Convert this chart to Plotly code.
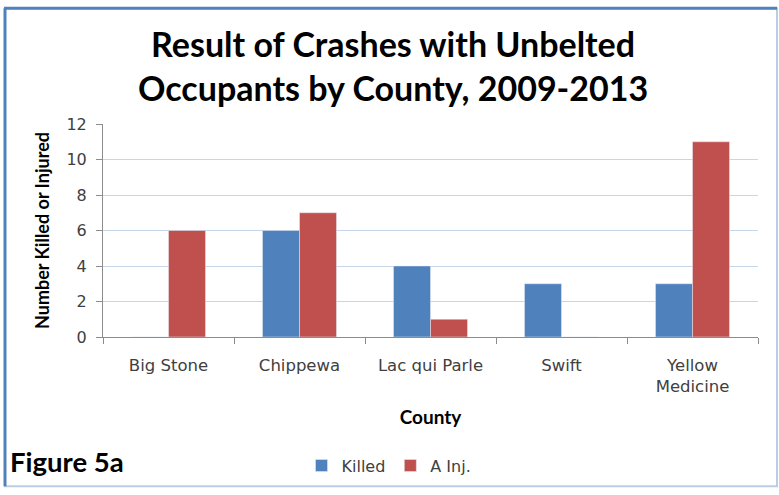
import plotly.graph_objects as go

# -------------------------------------------------
# Data
# -------------------------------------------------
counties = ["Big Stone", "Chippewa", "Lac qui Parle", "Swift", "Yellow<br>Medicine"]
killed = [0, 6, 4, 3, 3]
a_injured = [6, 7, 1, 0, 11]

BLUE = "#4F81BD"
RED = "#C0504D"
BOLD_FONT = "Lato"
TICK_FONT = "DejaVu Sans"

# plot area in pixels (779 x 495 page)
L, R, T, B = 103, 21, 124, 154
W, H = 779, 495
PW, PH = W - L - R, H - T - B


def px_x(x):
    return (x - L) / PW


def px_y(y):
    return (H - B - y) / PH


fig = go.Figure()
fig.add_trace(go.Bar(x=counties, y=killed, name="Killed", marker_color=BLUE))
fig.add_trace(go.Bar(x=counties, y=a_injured, name="A Inj.", marker_color=RED))

fig.update_layout(
    width=W,
    height=H,
    margin=dict(l=L, r=R, t=T, b=B),
    paper_bgcolor="white",
    plot_bgcolor="white",
    barmode="group",
    bargap=0.435,
    bargroupgap=0,
    font=dict(family=TICK_FONT, color="#404040", size=16),
    legend=dict(
        orientation="h",
        x=px_x(389),
        xanchor="center",
        y=px_y(472),
        yanchor="middle",
        font=dict(family=TICK_FONT, size=16, color="#404040"),
        itemwidth=30,
        traceorder="normal",
    ),
)

# chart title (two lines)
fig.add_annotation(
    text="<b>Result of Crashes with Unbelted<br>Occupants by County, 2009-2013</b>",
    xref="paper", yref="paper",
    x=px_x(393), y=px_y(64),
    xanchor="center", yanchor="middle",
    showarrow=False,
    font=dict(family=BOLD_FONT, size=34, color="black"),
)

fig.update_yaxes(
    range=[0, 12],
    dtick=2,
    showgrid=True,
    gridcolor="#C8D6EA",
    gridwidth=1,
    showline=True,
    linecolor="#8C8C8C",
    ticks="outside",
    ticklen=6,
    tickcolor="#8C8C8C",
    ticklabelstandoff=6,
    tickfont=dict(family=TICK_FONT, size=16, color="#404040"),
    title=dict(
        text="<b>Number Killed or Injured</b>",
        font=dict(family=BOLD_FONT, size=18, color="black"),
        standoff=12,
    ),
    zeroline=False,
)

fig.update_xaxes(
    showline=True,
    linecolor="#8C8C8C",
    ticks="outside",
    tickson="boundaries",
    ticklen=6,
    tickcolor="#8C8C8C",
    ticklabelstandoff=13,
    tickfont=dict(family=TICK_FONT, size=16.5, color="#404040"),
    title=dict(
        text="<b>County</b>",
        font=dict(family=BOLD_FONT, size=19, color="black"),
        standoff=15,
    ),
)

# outer frame (light) plus the darker top / left edges
fig.add_shape(type="rect", xref="paper", yref="paper",
              x0=px_x(5), x1=px_x(777), y0=px_y(493), y1=px_y(6),
              line=dict(color="#B9CDE5", width=2), layer="below")
fig.add_shape(type="line", xref="paper", yref="paper",
              x0=px_x(4), x1=px_x(777), y0=px_y(6), y1=px_y(6),
              line=dict(color=BLUE, width=3))
fig.add_shape(type="line", xref="paper", yref="paper",
              x0=px_x(5), x1=px_x(5), y0=px_y(6), y1=px_y(493),
              line=dict(color=BLUE, width=3))

fig.add_annotation(
    text="<b>Figure 5a</b>",
    xref="paper", yref="paper",
    x=px_x(8), y=px_y(468),
    xanchor="left", yanchor="middle",
    showarrow=False,
    font=dict(family=BOLD_FONT, size=27.5, color="black"),
)

# drop the default page margin / stray line boxes so the page is exactly the figure
fig.write_html(
    "out.html",
    config={"displayModeBar": False},
    post_script="document.body.style.margin='0';"
                "document.body.style.fontSize='0';"
                "document.body.style.lineHeight='0';"
                "document.documentElement.style.overflow='hidden';",
)
